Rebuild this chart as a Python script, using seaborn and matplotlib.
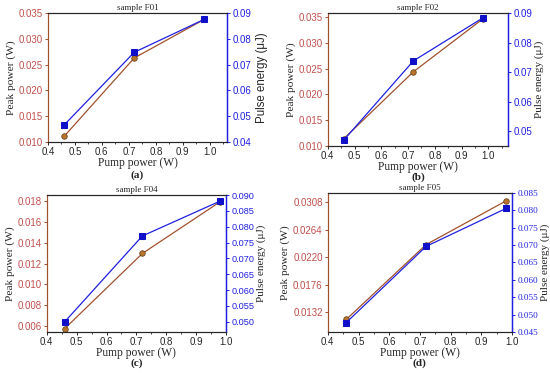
import matplotlib
matplotlib.use("Agg")
import matplotlib.pyplot as plt
import seaborn as sns
import numpy as np
from matplotlib.ticker import MultipleLocator

sns.set_style("ticks")

pump = [0.46, 0.72, 0.98]
titles = ["sample F01", "sample F02", "sample F04", "sample F05"]
letters = ["(a)", "(b)", "(c)", "(d)"]
peak_F01 = [0.0111, 0.0263, 0.0338]
energy_F01 = [0.0466, 0.0748, 0.0876]
peak_F02 = [0.0114, 0.0244, 0.0347]
energy_F02 = [0.0470, 0.0738, 0.0884]
peak_F04 = [0.00578, 0.01296, 0.0179]
energy_F04 = [0.0500, 0.0771, 0.0881]
peak_F05 = [0.0120, 0.0240, 0.0310]
energy_F05 = [0.0477, 0.0696, 0.0805]

peaks = [peak_F01, peak_F02, peak_F04, peak_F05]
energies = [energy_F01, energy_F02, energy_F04, energy_F05]

left_ticks = [
    [0.010, 0.015, 0.020, 0.025, 0.030, 0.035],
    [0.010, 0.015, 0.020, 0.025, 0.030, 0.035],
    [0.006, 0.008, 0.010, 0.012, 0.014, 0.016, 0.018],
    [0.0132, 0.0176, 0.0220, 0.0264, 0.0308],
]
left_fmt = ["%.3f", "%.3f", "%.3f", "%.4f"]
left_lim = [(0.010, 0.035), (0.010, 0.0358), (0.00546, 0.01854), (0.0100, 0.0323)]
right_ticks = [
    [0.04, 0.05, 0.06, 0.07, 0.08, 0.09],
    [0.05, 0.06, 0.07, 0.08, 0.09],
    [0.050, 0.055, 0.060, 0.065, 0.070, 0.075, 0.080, 0.085, 0.090],
    [0.045, 0.050, 0.055, 0.060, 0.065, 0.070, 0.075, 0.080, 0.085],
]
right_fmt = ["%.2f", "%.2f", "%.3f", "%.3f"]
right_lim = [(0.04, 0.09), (0.045, 0.09), (0.0468, 0.090), (0.045, 0.085)]
xlims = [(0.4, 1.064), (0.4, 1.074), (0.4, 1.0), (0.4, 1.0)]
xticks = [[0.4, 0.5, 0.6, 0.7, 0.8, 0.9, 1.0]] * 4

positions = [
    [0.087, 0.619, 0.326, 0.346],
    [0.596, 0.609, 0.328, 0.356],
    [0.085, 0.110, 0.326, 0.367],
    [0.596, 0.110, 0.335, 0.373],
]
letter_y = [0.529, 0.525, 0.026, 0.026]
right_fs = [7, 7, 6.6, 6.6]
right_family_serif = [False, False, False, True]

peak_line = "#a0522d"
peak_face = "#b8742a"
tick_red = "#c0504d"
blue = "#2020e0"

serif = ["Liberation Serif", "DejaVu Serif"]
sans = ["Liberation Sans", "DejaVu Sans"]

fig = plt.figure(figsize=(5.5, 3.73), dpi=100)
for i in range(4):
    ax = fig.add_axes(positions[i])
    ax2 = ax.twinx()
    sns.lineplot(x=pump, y=peaks[i], ax=ax, color=peak_line, lw=0.9,
                 marker="o", markersize=4, markerfacecolor=peak_face,
                 markeredgecolor="#5a3a1a", markeredgewidth=0.5)
    sns.lineplot(x=pump, y=energies[i], ax=ax2, color=blue, lw=0.9,
                 marker="s", markersize=3.8, markerfacecolor="#1010c8",
                 markeredgecolor="#1010c8")
    ax.set_xlim(*xlims[i])
    ax.set_xticks(xticks[i])
    ax.xaxis.set_minor_locator(MultipleLocator(0.05))
    ax.set_ylim(*left_lim[i])
    ax.set_yticks(left_ticks[i])
    ax.set_yticklabels([left_fmt[i] % v for v in left_ticks[i]])
    ax2.set_ylim(*right_lim[i])
    ax2.set_yticks(right_ticks[i])
    ax2.set_yticklabels([right_fmt[i] % v for v in right_ticks[i]])
    ax.set_xticklabels(["%.1f" % v for v in xticks[i]])

    for lab in ax.get_xticklabels():
        lab.set_fontfamily(sans); lab.set_fontsize(7)
    for lab in ax.get_yticklabels():
        lab.set_fontfamily(sans); lab.set_fontsize(7); lab.set_color(tick_red)
    for lab in ax2.get_yticklabels():
        lab.set_fontfamily(serif if right_family_serif[i] else sans)
        lab.set_fontsize(right_fs[i]); lab.set_color(blue)

    ax.tick_params(axis="both", which="major", length=2.5, width=0.7, pad=1.2)
    ax.tick_params(axis="x", which="minor", length=1.5, width=0.6)
    ax.tick_params(axis="y", colors=peak_line, labelcolor=tick_red)
    ax2.tick_params(axis="y", length=2.5, width=0.7, pad=1.5, colors=blue, labelcolor=blue)
    ax2.spines["right"].set_color(blue)
    ax2.spines["right"].set_linewidth(1.0)
    ax2.spines["left"].set_color(peak_line)
    ax2.spines["top"].set_visible(True)
    ax.spines["top"].set_visible(True)
    ax.spines["right"].set_visible(True)
    ax.spines["right"].set_color(blue)
    ax.spines["left"].set_color(peak_line)
    for sp in ["top", "bottom"]:
        ax.spines[sp].set_linewidth(0.8)
        ax2.spines[sp].set_linewidth(0.8)

    ax.set_xlabel("Pump power (W)", fontfamily=serif, fontsize=8.3, labelpad=0)
    ax.set_ylabel("Peak power (W)", fontfamily=serif, fontsize=8.2, labelpad=2)
    ax2.set_ylabel("Pulse energy (\u03bcJ)", fontfamily=(sans if i == 0 else serif),
                   fontsize=(8.3 if i == 0 else 8.0), labelpad=(3 if i == 0 else 1.5))
    ax.set_title(titles[i], fontfamily=serif, fontsize=6.5, pad=2)
    cx = positions[i][0] + positions[i][2] / 2
    fig.text(cx, letter_y[i], letters[i], fontfamily=serif, fontsize=8.2,
             fontweight="bold", ha="center", va="center")

fig.savefig("out.png", dpi=100)
